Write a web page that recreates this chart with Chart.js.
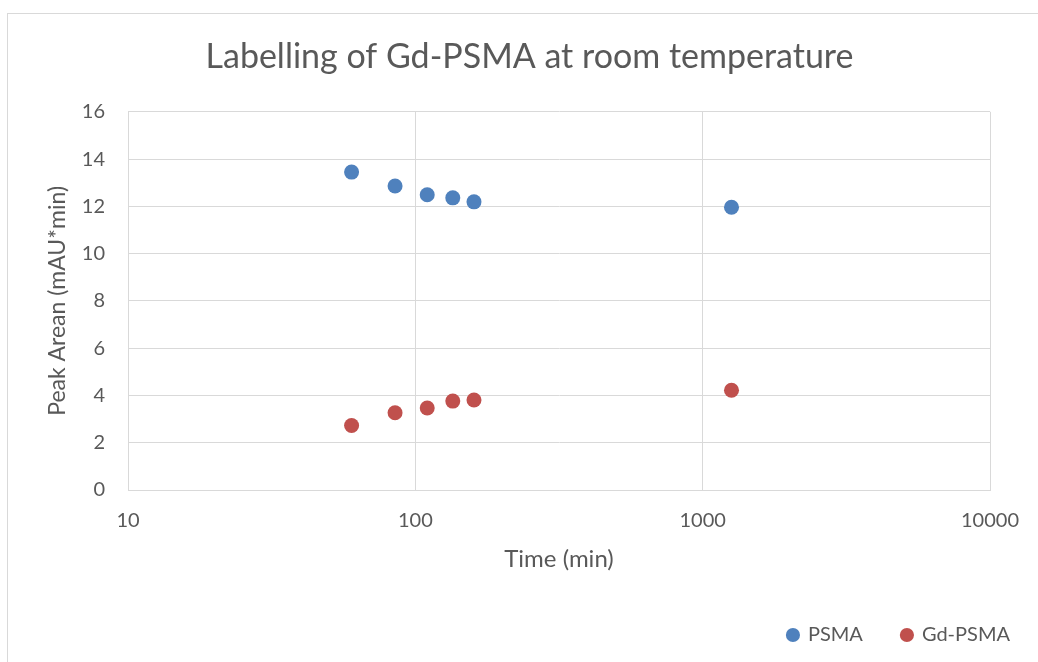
<!DOCTYPE html>
<html>
<head>
<meta charset="utf-8">
<title>Labelling of Gd-PSMA at room temperature</title>
<script src="https://cdn.jsdelivr.net/npm/chart.js@4.4.1/dist/chart.umd.min.js"></script>
<style>
  html, body { margin: 0; padding: 0; background: #fff; }
  #wrap { position: relative; width: 1038px; height: 662px; overflow: hidden; }
  /* light frame around the chart, cut off at the right and bottom */
  #frame { position: absolute; left: 7px; top: 13px; width: 1100px; height: 700px;
           border: 1px solid #d9d9d9; box-sizing: border-box; }
  #chart { position: absolute; left: 0; top: 0; }
</style>
</head>
<body>
<div id="wrap">
  <div id="frame"></div>
  <canvas id="chart" width="1038" height="662"></canvas>
</div>
<script>
// time in minutes, peak area in mAU*min
const timePoints = [60, 85, 110, 135, 160, 1260];
const psmaArea = [13.45, 12.86, 12.49, 12.36, 12.19, 11.96];
const gdPsmaArea = [2.73, 3.27, 3.47, 3.76, 3.81, 4.22];
const xTickValues = [10, 100, 1000, 10000];
const yTickValues = [0, 2, 4, 6, 8, 10, 12, 14, 16];

const textColor = '#595959';
const gridColor = '#d9d9d9';
const fontFamily = 'Lato, "Open Sans", sans-serif';

const toPoints = (xs, ys) => xs.map((x, i) => ({ x: x, y: ys[i] }));

new Chart(document.getElementById('chart'), {
    type: 'scatter',
    data: {
        datasets: [
            {
                label: 'PSMA',
                data: toPoints(timePoints, psmaArea),
                backgroundColor: '#4F81BD',
                borderColor: '#4F81BD',
                borderWidth: 0,
                pointRadius: 7.5,
                pointHoverRadius: 7.5,
                yAxisID: 'y'
            },
            {
                label: 'Gd-PSMA',
                data: toPoints(timePoints, gdPsmaArea),
                backgroundColor: '#C0504D',
                borderColor: '#C0504D',
                borderWidth: 0,
                pointRadius: 7.5,
                pointHoverRadius: 7.5,
                yAxisID: 'y'
            }
        ]
    },
    options: {
        responsive: false,
        animation: false,
        devicePixelRatio: 1,
        layout: { padding: { left: 10, right: -11, top: 0, bottom: 7 } },
        plugins: {
            title: {
                display: true,
                text: 'Labelling of Gd-PSMA at room temperature',
                color: textColor,
                font: { family: fontFamily, size: 34, weight: 'normal', lineHeight: 1.2 },
                padding: { top: 37, bottom: 34 }
            },
            legend: {
                position: 'bottom',
                align: 'end',
                labels: {
                    usePointStyle: true,
                    pointStyle: 'circle',
                    boxWidth: 10,
                    boxHeight: 10,
                    padding: 39,
                    color: textColor,
                    font: { family: fontFamily, size: 20 }
                }
            },
            tooltip: { enabled: false }
        },
        scales: {
            x: {
                type: 'logarithmic',
                position: 'bottom',
                min: 10,
                max: 10000,
                afterBuildTicks: (scale) => {
                    scale.ticks = xTickValues.map(v => ({ value: v }));
                },
                afterFit: (scale) => { scale.height = 96; },
                ticks: {
                    color: textColor,
                    font: { family: fontFamily, size: 20 },
                    padding: 19,
                    maxRotation: 0,
                    callback: (value) => String(value)
                },
                grid: { color: gridColor, lineWidth: 1, drawTicks: false },
                border: { color: gridColor, width: 1 },
                title: {
                    display: true,
                    text: 'Time (min)',
                    color: textColor,
                    font: { family: fontFamily, size: 24, lineHeight: 1.2 },
                    padding: { top: 0, bottom: 12 }
                }
            },
            y: {
                position: 'left',
                min: 0,
                max: 16,
                afterBuildTicks: (scale) => {
                    scale.ticks = yTickValues.map(v => ({ value: v }));
                },
                afterFit: (scale) => { scale.width = 118; },
                ticks: {
                    color: textColor,
                    font: { family: fontFamily, size: 20 },
                    padding: 23
                },
                grid: { color: gridColor, lineWidth: 1, drawTicks: false },
                border: { color: gridColor, width: 1 },
                title: {
                    display: true,
                    text: 'Peak Arean (mAU*min)',
                    color: textColor,
                    font: { family: fontFamily, size: 23, lineHeight: 1.2 },
                    padding: { top: 34, bottom: 0 }
                }
            },
            // empty axis that keeps space free on the right of the plot
            yPad: {
                position: 'right',
                display: true,
                afterFit: (scale) => { scale.width = 58; },
                ticks: { display: false },
                grid: { display: false },
                border: { display: false }
            }
        }
    }
});
</script>
</body>
</html>
